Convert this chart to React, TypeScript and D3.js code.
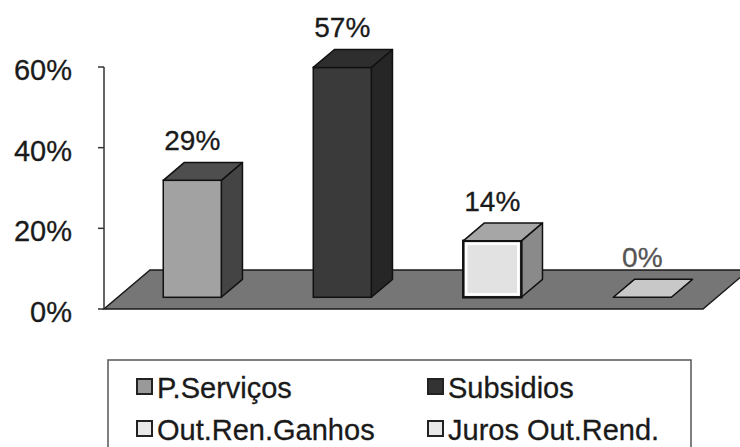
import React, { useEffect, useRef } from 'react';
import * as d3 from 'd3';

// categories and values
const categories = ['P.Serviços', 'Subsidios', 'Out.Ren.Ganhos', 'Juros Out.Rend.'];
const values = [29, 57, 14, 0];
const valueLabels = ['29%', '57%', '14%', '0%'];
const yTicks = [0, 20, 40, 60];

// colours per series: front, top, side
const fronts = ['#a2a2a2', '#3a3a3a', '#e2e2e2', '#c8c8c8'];
const tops = ['#4e4e4e', '#2e2e2e', '#a6a6a6', '#c8c8c8'];
const sides = ['#444444', '#262626', '#8a8a8a', '#8a8a8a'];
const swatches = ['#999999', '#333333', '#e8e8e8', '#e8e8e8'];

const App = () => {
  const ref = useRef<SVGSVGElement | null>(null);

  useEffect(() => {
    const svg = d3.select(ref.current);
    svg.selectAll('*').remove();
    const font = '"Liberation Sans", Arial, sans-serif';

    // floor front edge and depth
    const x0 = 104;
    const x1 = 703;
    const depth = { dx: 46, dy: -39 };
    const f1 = 0.3; // bar front along the depth
    const f2 = 0.76; // bar back along the depth

    const y = d3.scaleLinear().domain([0, 60]).range([309, 67]);
    const x = d3
      .scaleBand()
      .domain(categories)
      .range([x0, x1])
      .paddingInner(0.613)
      .paddingOuter(0.303);

    // floor
    const floor = [
      [x0, y(0)],
      [x1, y(0)],
      [x1 + depth.dx, y(0) + depth.dy],
      [x0 + depth.dx, y(0) + depth.dy],
    ];
    svg
      .append('polygon')
      .attr('points', floor.map(p => p.join(',')).join(' '))
      .attr('fill', '#767676')
      .attr('stroke', '#1a1a1a')
      .attr('stroke-width', 1.5);

    // y axis
    svg
      .append('line')
      .attr('x1', x0)
      .attr('x2', x0)
      .attr('y1', y(60))
      .attr('y2', y(0))
      .attr('stroke', '#333')
      .attr('stroke-width', 1.5);

    const ticks = svg.append('g').selectAll('g').data(yTicks).enter().append('g');
    ticks
      .append('line')
      .attr('x1', x0 - 6)
      .attr('x2', x0)
      .attr('y1', d => y(d))
      .attr('y2', d => y(d))
      .attr('stroke', '#333')
      .attr('stroke-width', 1.5);
    ticks
      .append('text')
      .attr('x', 72)
      .attr('y', d => y(d) + 13)
      .attr('text-anchor', 'end')
      .style('font-family', font)
      .style('font-size', '29px')
      .attr('fill', '#1a1a1a')
      .attr('stroke', '#1a1a1a')
      .attr('stroke-width', 0.3)
      .text(d => `${d}%`);

    // bars
    const fdx = depth.dx * f1;
    const fdy = depth.dy * f1;
    const bdx = depth.dx * (f2 - f1);
    const bdy = depth.dy * (f2 - f1);
    const bw = x.bandwidth();

    categories.forEach((c, i) => {
      const v = values[i];
      const left = (x(c) as number) + fdx;
      const right = left + bw;
      const bottom = y(0) + fdy;
      const top = y(v) + fdy;
      const g = svg.append('g');
      const pts = (arr: number[][]) => arr.map(p => p.join(',')).join(' ');

      if (v > 0) {
        // side
        g.append('polygon')
          .attr('points', pts([[right, bottom], [right + bdx, bottom + bdy], [right + bdx, top + bdy], [right, top]]))
          .attr('fill', sides[i])
          .attr('stroke', '#111')
          .attr('stroke-width', 1.5)
          .attr('stroke-linejoin', 'round');
        // front
        g.append('rect')
          .attr('x', left)
          .attr('y', top)
          .attr('width', bw)
          .attr('height', bottom - top)
          .attr('fill', fronts[i])
          .attr('stroke', '#111')
          .attr('stroke-width', i === 2 ? 2.5 : 1.5);
        if (i === 2) {
          g.append('rect')
            .attr('x', left + 3)
            .attr('y', top + 3)
            .attr('width', bw - 6)
            .attr('height', bottom - top - 6)
            .attr('fill', 'none')
            .attr('stroke', '#fff')
            .attr('stroke-width', 2.5);
        }
      }
      // top
      g.append('polygon')
        .attr('points', pts([[left, top], [right, top], [right + bdx, top + bdy], [left + bdx, top + bdy]]))
        .attr('fill', tops[i])
        .attr('stroke', '#111')
        .attr('stroke-width', 1.5)
        .attr('stroke-linejoin', 'round');

      // value label
      svg
        .append('text')
        .attr('x', left + bw / 2)
        .attr('y', top + bdy - 12)
        .attr('text-anchor', 'middle')
        .style('font-family', font)
        .style('font-size', '28px')
        .attr('fill', v === 0 ? '#555' : '#1a1a1a')
        .attr('stroke', v === 0 ? '#555' : '#1a1a1a')
        .attr('stroke-width', 0.3)
        .text(valueLabels[i]);
    });

    // legend
    const legend = svg.append('g');
    legend
      .append('rect')
      .attr('x', 108)
      .attr('y', 360)
      .attr('width', 583)
      .attr('height', 110)
      .attr('fill', '#fff')
      .attr('stroke', '#555')
      .attr('stroke-width', 1.5);

    const cols = [137, 428];
    const rows = [398, 440];
    const item = legend
      .selectAll('.legend-item')
      .data(categories)
      .enter()
      .append('g')
      .attr('transform', (d, i) => `translate(${cols[i % 2]},${rows[Math.floor(i / 2)]})`);
    item
      .append('rect')
      .attr('x', 0)
      .attr('y', -19)
      .attr('width', 15)
      .attr('height', 15)
      .attr('fill', (d, i) => swatches[i])
      .attr('stroke', '#222')
      .attr('stroke-width', 2);
    item
      .append('text')
      .attr('x', 20)
      .attr('y', 0)
      .style('font-family', font)
      .style('font-size', '29px')
      .attr('fill', '#1a1a1a')
      .attr('stroke', '#1a1a1a')
      .attr('stroke-width', 0.3)
      .text(d => d);
  }, []);

  return (
    <svg
      ref={ref}
      width={740}
      height={447}
      style={{ position: 'absolute', left: 0, top: 0, background: '#fff' }}
    />
  );
};

export default App;
